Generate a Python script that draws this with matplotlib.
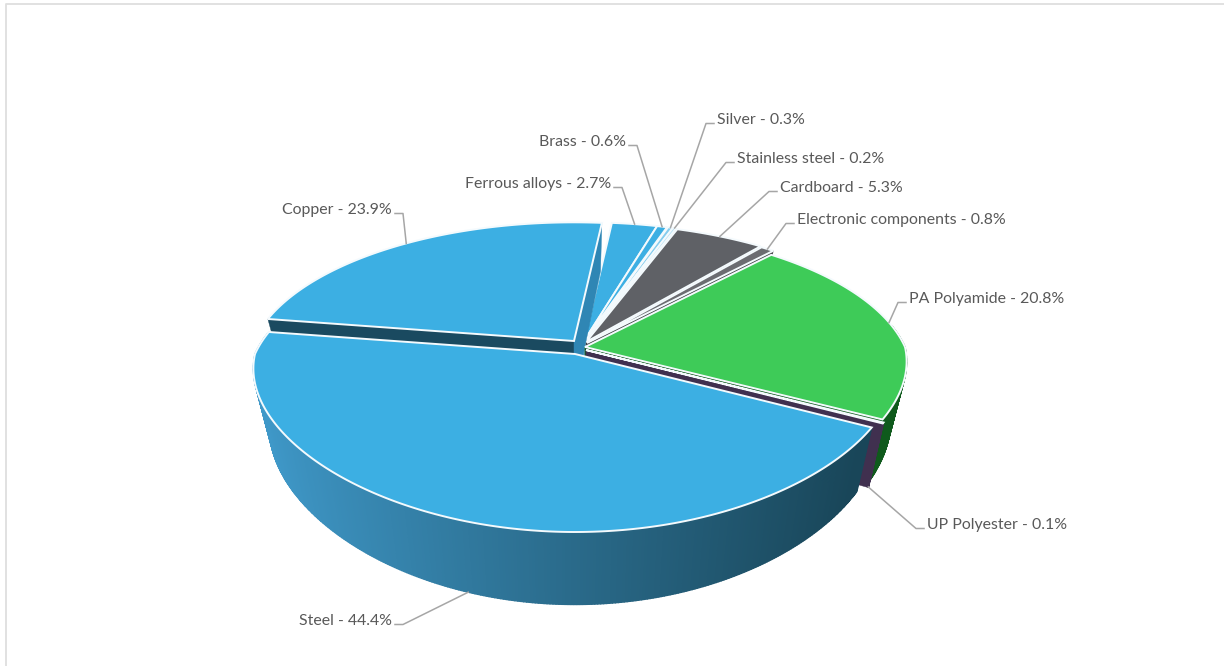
# -*- coding: utf-8 -*-
#3D style pie of material shares, drawn by hand since matplotlib has no 3D pie
import numpy as np
import matplotlib
matplotlib.use('Agg')
import matplotlib.pyplot as plt
from matplotlib.colors import to_rgb

# %% data
materials = ['Ferrous alloys', 'Brass', 'Silver', 'Stainless steel', 'Cardboard',
             'Electronic components', 'PA Polyamide', 'UP Polyester', 'Steel', 'Copper']
shares = [2.7, 0.6, 0.3, 0.2, 5.3, 0.8, 20.8, 0.1, 44.4, 23.9]

top_colors = ['#3cafe3', '#3cafe3', '#86cdee', '#b5dff3', '#5f6166',
              '#6b6c71', '#3ecb58', '#40304f', '#3cafe3', '#3cafe3']
wall_colors = ['#2f86b4', '#2f86b4', '#7fb9d6', '#a5cde0', '#47484c',
               '#3a3a40', '#0f5a1c', '#40304f', '#1a4a60', '#1a4a60']
end_colors = ['#2f86b4', '#2f86b4', '#7fb9d6', '#a5cde0', '#47484c',
              '#3a3a40', '#0f5a1c', '#40304f', '#1a4a60', '#2f86b4']

#pixel offset of every slice from the pie centre
offsets = [(4, -4), (4, -4), (5, -4), (5, -4), (6, -3),
           (7, -2), (5, 2), (6, 5), (-5, 9), (-6, -4)]

#label position, elbow of the leader line, and which side the text sits on
label_pos = [(611, 183, 'right'), (626, 141, 'right'), (717, 119, 'left'), (737, 158, 'left'),
             (780, 187, 'left'), (797, 219, 'left'), (909, 298, 'left'), (927, 524, 'left'),
             (392, 620, 'right'), (392, 209, 'right')]

# %% geometry
cx, cy = 580, 345
rx, ry = 320, 142.4
k = 0.2       #perspective strength
depth = 58    #height of the wall at the centre line
start = 84    #angle where the first slice starts, clockwise from there


def project(t, r=1.0, z=0.0, off=(0, 0)):
    u, v = r * np.cos(np.radians(t)), r * np.sin(np.radians(t))
    s = 1 / (1 + k * v)
    #the front widens less than the back narrows
    sx = 1 / (1 + np.where(v > 0, k, k / 2) * v)
    x = cx + off[0] + rx * u * sx * (1 - 0.05 * z)
    y = cy + off[1] - ry * v * s + depth * z * s
    return x, y


def mix(c1, c2, f):
    a, b = np.array(to_rgb(c1)), np.array(to_rgb(c2))
    return tuple(a + (b - a) * f)


def steel_wall(x):
    #side of the big slice fades from mid blue to dark teal
    f = np.clip((x - 260) / (860 - 260), 0, 1)
    return mix('#3f98c8', '#194659', f ** 0.9)


fig = plt.figure(figsize=(12.24, 6.66), dpi=100)
ax = fig.add_axes([0, 0, 1, 1])
ax.set_xlim(0, 1224)
ax.set_ylim(666, 0)
ax.axis('off')

#chart frame
ax.plot([5.5, 5.5, 1224], [666, 4, 4], color='#dedede', lw=1.3)

total = sum(shares)
spans = [s / total * 360 for s in shares]
ends = start - np.cumsum(spans)
begins = ends + np.array(spans)
mids = (begins + ends) / 2

#back slices first so the front ones cover them
order = sorted(range(len(shares)), key=lambda i: -np.sin(np.radians(mids[i])))

for i in order:
    off = offsets[i]
    ts = np.linspace(begins[i], ends[i], max(4, int(spans[i] * 2)))
    ax_, ay_ = project(0, 0, 0, off)
    bx_, by_ = project(0, 0, 1, off)

    # radial walls
    for t, col in ((begins[i], wall_colors[i]), (ends[i], end_colors[i])):
        x0, y0 = project(t, 1, 0, off)
        x1, y1 = project(t, 1, 1, off)
        ax.fill([ax_, x0, x1, bx_], [ay_, y0, y1, by_], color=col, lw=0.3)

    # outer wall, strip by strip, only on the side facing the viewer
    xt, yt = project(ts, 1, 0, off)
    xb, yb = project(ts, 1, 1, off)
    for j in range(len(ts) - 1):
        if np.sin(np.radians(ts[j])) > 0.15 and np.sin(np.radians(ts[j + 1])) > 0.15:
            continue
        xm = (xt[j] + xt[j + 1]) / 2
        col = steel_wall(xm) if materials[i] == 'Steel' else wall_colors[i]
        ax.fill([xt[j], xt[j + 1], xb[j + 1], xb[j]],
                [yt[j], yt[j + 1], yb[j + 1], yb[j]], color=col, lw=1.0)

    # top face
    ax.fill(np.r_[ax_, xt], np.r_[ay_, yt], facecolor=top_colors[i], edgecolor='#f4fafd', lw=1.4,
            joinstyle='miter')

# %% labels with leader lines
for i, (tx, ty, ha) in enumerate(label_pos):
    z = 1 if np.sin(np.radians(mids[i])) < -0.3 else 0
    rimx, rimy = project(mids[i], 1, z, offsets[i])
    sign = 1 if ha == 'left' else -1
    ly = ty + 4.5
    ax.plot([tx - sign * 3, tx - sign * 11, rimx], [ly, ly, rimy], color='#a6a6a6', lw=1.1)
    ax.text(tx, ty + 1, '{} - {}%'.format(materials[i], shares[i]), ha=ha, va='center',
            family='Lato', fontsize=11.45, color='#595959')

plt.savefig('out.png', dpi=100)
